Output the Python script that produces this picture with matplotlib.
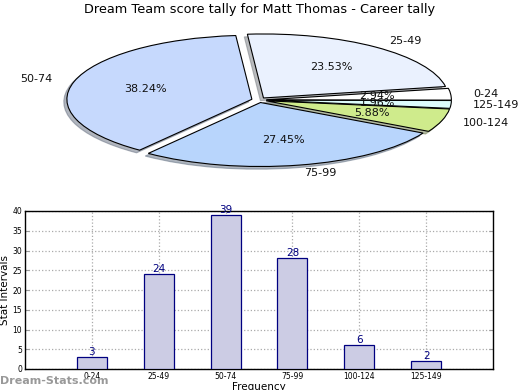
import matplotlib
matplotlib.use("Agg")
import matplotlib.pyplot as plt

# score bands and how often each occurred
categories = ["0-24", "25-49", "50-74", "75-99", "100-124", "125-149"]
counts = [3, 24, 39, 28, 6, 2]
pie_colors = ["#ffffff", "#eaf1fe", "#c6d9fd", "#b8d5fc", "#cfeb8c", "#ddfcfc"]
# order slices go round the pie (counter-clockwise from the top)
pie_order = [2, 3, 4, 5, 0, 1]

W, H = 520, 390
fig = plt.figure(figsize=(W / 100, H / 100), dpi=100)

# ---- pie (squashed into an ellipse) ----
cx, cy, rx, ry = 259, 100, 185, 64
top, bottom = 25, 185
ax_pie = fig.add_axes([0, (H - bottom) / H, 1, (bottom - top) / H])
ax_pie.pie(
    [counts[i] for i in pie_order],
    labels=[categories[i] for i in pie_order],
    colors=[pie_colors[i] for i in pie_order],
    explode=[0.04] * len(pie_order),
    startangle=95,
    autopct="%.2f%%",
    pctdistance=0.6,
    labeldistance=1.12,
    shadow={"ox": -0.012, "oy": -0.03, "shade": 0.5},
    wedgeprops=dict(edgecolor="black", linewidth=0.8),
    textprops=dict(fontsize=8, color="#111111"),
)
ax_pie.set_aspect("auto")
ax_pie.set_xlim(-cx / rx, (W - cx) / rx)
ax_pie.set_ylim(-(bottom - cy) / ry, (cy - top) / ry)
ax_pie.axis("off")

fig.text(0.5, 1 - 10 / H, "Dream Team score tally for Matt Thomas - Career tally",
         ha="center", va="center", fontsize=9.3)

# ---- bar chart ----
left, right, btop, bbot = 25, 493, 211, 369
ax = fig.add_axes([left / W, (H - bbot) / H, (right - left) / W, (bbot - btop) / H])
x = list(range(len(categories)))
ax.bar(x, counts, width=0.45, color="#cccce4",
       edgecolor="#000080", linewidth=0.9, zorder=3)
for xi, v in zip(x, counts):
    ax.text(xi, v, str(v), ha="center", va="bottom", fontsize=7.5,
            color="#000080", zorder=4)

ax.set_xlim(-1, 6)
ax.set_ylim(0, 40)
ax.set_yticks(range(0, 41, 5))
ax.set_xticks(x)
ax.set_xticklabels(categories)
ax.tick_params(labelsize=5.5, direction="in", color="#999999", length=3,
               right=True, top=False, pad=2)
ax.grid(True, linestyle=":", color="#aaaaaa", linewidth=0.9, zorder=0)
for s in ax.spines.values():
    s.set_linewidth(1.0)
ax.set_ylabel("Stat Intervals", fontsize=7.5, labelpad=2)
ax.set_xlabel("Frequency", fontsize=7.5, labelpad=1)

fig.text(0, 1 - 381 / H, "Dream-Stats.com", ha="left", va="center",
         fontsize=8, fontweight="bold", color="#999999")

fig.savefig("out.png", dpi=100)
